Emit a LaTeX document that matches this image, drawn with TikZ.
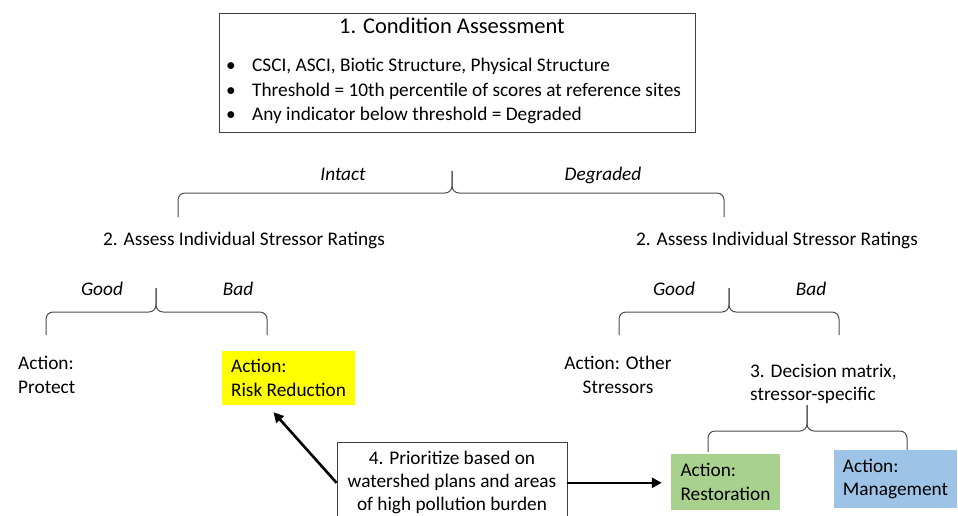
\documentclass[tikz,border=0pt]{standalone}
\usepackage{fontspec}
\setmainfont{Carlito}
\usepackage{xcolor}
\usetikzlibrary{arrows.meta}

\definecolor{riskyellow}{RGB}{255,255,0}
\definecolor{restgreen}{RGB}{169,209,142}
\definecolor{mgmtblue}{RGB}{157,195,230}

\begin{document}
\begin{tikzpicture}[x=1pt, y=-1pt,
		txt/.style = {inner sep=0pt, font=\fontsize{19.3}{23.5}\selectfont},
		lbl/.style = {inner sep=0pt, font=\fontsize{19.3}{23.5}\selectfont\itshape},
		frame/.style = {draw=black!75, line width=0.9pt},
		actbox/.style = {txt, align=left, anchor=center},
		brace/.style = {draw=black!70, line width=1pt, rounded corners=7pt},
		push/.style = {line width=2.6pt, -{Triangle[length=10pt,width=10pt]}}]
			\path [use as bounding box] (0,0) rectangle (958,515);
			\clip (0,0) rectangle (958,515);

			% condition assessment
			\node [frame, minimum width=476pt, minimum height=119pt] (cond) at (457,72.5) {};
			\node [txt, anchor=base, font=\fontsize{22.5}{27}\selectfont] (condtitle) at (452,33) {1. Condition Assessment};
			\node [txt, anchor=base west] (crit1) at (226,71) {\makebox[26pt][l]{•}CSCI, ASCI, Biotic Structure, Physical Structure};
			\node [txt, anchor=base west] (crit2) at (226,96) {\makebox[26pt][l]{•}Threshold = 10th percentile of scores at reference sites};
			\node [txt, anchor=base west] (crit3) at (226,120) {\makebox[26pt][l]{•}Any indicator below threshold = Degraded};

			% intact / degraded
			\draw [brace] (178,217) |- (452,193) -- (452,171);
			\draw [brace] (724,217) |- (452,193) -- (452,171);
			\node [lbl, anchor=base] (intact) at (343,180) {Intact};
			\node [lbl, anchor=base] (degraded) at (603,180) {Degraded};
			\node [txt, anchor=base] (assessL) at (244,245) {2. Assess Individual Stressor Ratings};
			\node [txt, anchor=base] (assessR) at (777,245) {2. Assess Individual Stressor Ratings};

			% good / bad, left
			\draw [brace] (46,335) |- (156,312) -- (156,288);
			\draw [brace] (267,335) |- (156,312) -- (156,288);
			\node [lbl, anchor=base] (goodL) at (102,295) {Good};
			\node [lbl, anchor=base] (badL) at (238,295) {Bad};
			\node [txt, align=left, anchor=west] (protect) at (18,375) {Action:\\Protect};
			\node [actbox, fill=riskyellow, minimum width=133pt, minimum height=54pt] (risk) at (288.5,378) {Action:\\Risk Reduction};

			% good / bad, right
			\draw [brace] (619,335) |- (729,312) -- (729,288);
			\draw [brace] (839,335) |- (729,312) -- (729,288);
			\node [lbl, anchor=base] (goodR) at (674,295) {Good};
			\node [lbl, anchor=base] (badR) at (811,295) {Bad};
			\node [txt, align=center] (other) at (618,375) {Action: Other\\Stressors};
			\node [txt, align=left, anchor=west] (decide) at (750,384) {3. Decision matrix,\\stressor-specific};

			% decision matrix
			\draw [brace] (708,452) |- (807,431) -- (807,405);
			\draw [brace] (907,452) |- (807,431) -- (807,405);
			\node [actbox, fill=restgreen, minimum width=109pt, minimum height=56pt] (resto) at (725.5,482) {Action:\\Restoration};
			\node [actbox, fill=mgmtblue, minimum width=123pt, minimum height=58pt] (mgmt) at (895.5,479) {Action:\\Management};

			% prioritize
			\node [frame, fill=white, txt, font=\fontsize{19.3}{23}\selectfont, inner xsep=6pt, inner ysep=9pt, minimum width=230pt, align=center, anchor=north] (prio) at (452,442) {4. Prioritize based on\\watershed plans and areas\\of high pollution burden};
			\draw [push] (prio.west) to ([xshift=-15pt,yshift=-7pt]risk.south);
			\draw [push, shorten >=9pt] (prio.east) to (prio.east -| resto.west);
		\end{tikzpicture}
\end{document}
